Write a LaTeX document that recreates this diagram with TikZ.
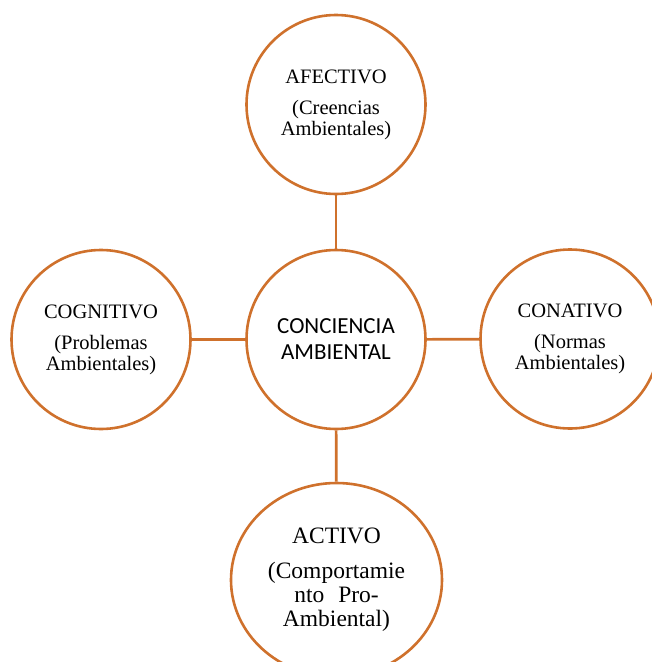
\documentclass[tikz,border=0pt]{standalone}
\usepackage{fontspec}
\setmainfont{Liberation Serif}
\newfontfamily\carlito{Carlito}
\usetikzlibrary{shapes.geometric}
\definecolor{rimorange}{RGB}{207,113,44}

\begin{document}
\begin{tikzpicture}[x=1pt,y=-1pt,
  dim/.style={circle,draw=rimorange,line width=2.6pt,fill=white,inner sep=0pt,
    minimum size=179pt,align=center,font=\fontsize{20.5}{21}\selectfont},
  link/.style={draw=rimorange,line width=2.6pt}]
  \clip (0,0) rectangle (652,662);
  % the four dimensions round the centre
  \node[dim,font=\carlito\fontsize{23}{26}\selectfont] (mid) at (336,339.5) {CONCIENCIA\\AMBIENTAL};
  \node[dim] (afec) at (336,104.5) {AFECTIVO\\[10pt](Creencias\\Ambientales)};
  \node[dim] (cogn) at (101,339.5) {COGNITIVO\\[10pt](Problemas\\Ambientales)};
  \node[dim] (conat) at (570,339) {CONATIVO\\[10pt](Normas\\Ambientales)};
  \node[dim,ellipse,minimum width=211pt,minimum height=194pt,font=\fontsize{23.5}{24}\selectfont]
    (activ) at (336.5,580) {ACTIVO\\[11pt](Comportamie\\nto\hspace{14pt}Pro-\\Ambiental)};
  \draw[link] (mid) -- (afec); \draw[link] (mid) -- (cogn);
  \draw[link] (mid) -- (conat); \draw[link] (mid) -- (activ);
\end{tikzpicture}
\end{document}
